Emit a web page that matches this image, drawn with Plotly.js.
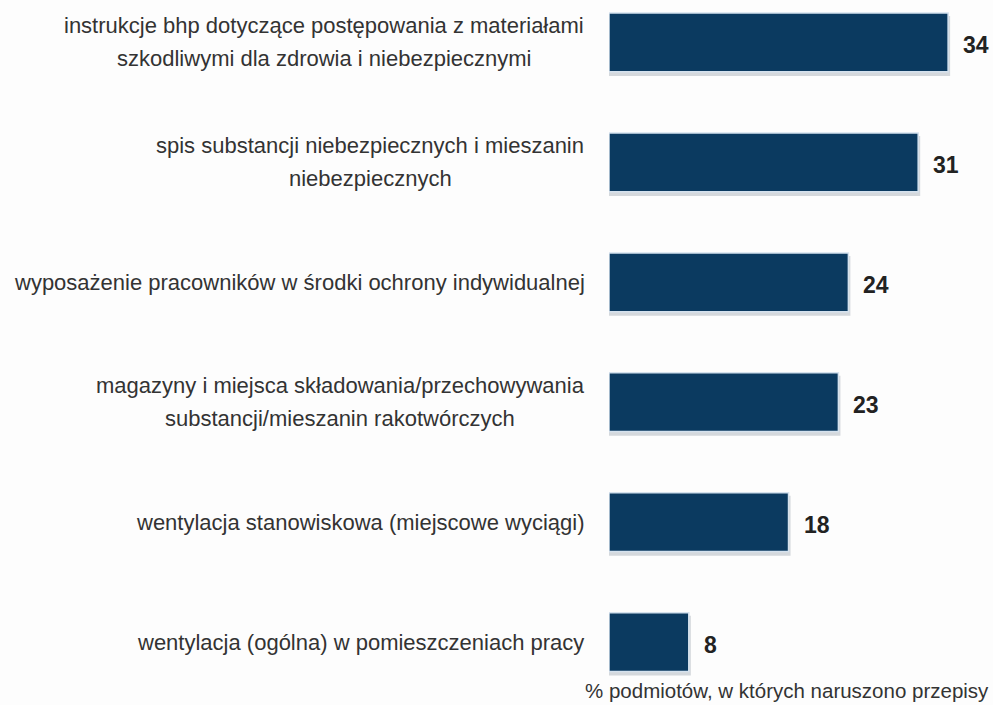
<!DOCTYPE html>
<html>
<head>
<meta charset="utf-8">
<script src="https://cdn.plot.ly/plotly-3.0.1.min.js"></script>
<style>html,body{margin:0;padding:0;background:#fdfdfd;}#chart{width:993px;height:705px;}</style>
</head>
<body>
<div id="chart"></div>
<script>
const categories = [
  "instrukcje bhp dotyczące postępowania z materiałami<br>szkodliwymi dla zdrowia i niebezpiecznymi",
  "spis substancji niebezpiecznych i mieszanin<br>niebezpiecznych",
  "wyposażenie pracowników w środki ochrony indywidualnej",
  "magazyny i miejsca składowania/przechowywania<br>substancji/mieszanin rakotwórczych",
  "wentylacja stanowiskowa (miejscowe wyciągi)",
  "wentylacja (ogólna) w pomieszczeniach pracy"
];
const values = [34, 31, 24, 23, 18, 8];
const footnote = "% podmiotów, w których naruszono przepisy";

const idx = categories.map((c, i) => i);
const FONT = "'Liberation Sans', Arial, sans-serif";
const LABEL_FONT = 22;
const ctx = document.createElement('canvas').getContext('2d');
ctx.font = LABEL_FONT + "px 'Liberation Sans', Arial, sans-serif";

const annotations = [];
categories.forEach((c, i) => {
  const lines = c.split('<br>');
  const w = Math.max(...lines.map(l => ctx.measureText(l).width));
  const n = lines.length;
  lines.forEach((l, k) => {
    annotations.push({
      xref: 'paper', yref: 'y', x: 0, y: i,
      xanchor: 'center', yanchor: 'middle',
      xshift: -25 - w / 2,
      yshift: -((k - (n - 1) / 2) * 33),
      text: l, showarrow: false,
      font: {family: FONT, size: LABEL_FONT, color: '#333333'}
    });
  });
  annotations.push({
    xref: 'x', yref: 'y', x: values[i], y: i,
    xanchor: 'left', yanchor: 'middle', xshift: 13, yshift: -3,
    text: '<b>' + values[i] + '</b>', showarrow: false,
    font: {family: FONT, size: 23, color: '#222222'}
  });
});
annotations.push({
  xref: 'paper', yref: 'paper', x: 1, y: 0, xanchor: 'right', yanchor: 'middle',
  xshift: -2, yshift: 12,
  text: footnote, showarrow: false,
  font: {family: FONT, size: 20.5, color: '#333333'}
});

const shadow = {
  type: 'bar', orientation: 'h', y: idx, x: values.map(v => v + 0.2),
  width: 0.5, offset: -0.22,
  marker: {color: 'rgba(150,160,170,0.4)', line: {width: 0}},
  hoverinfo: 'skip', showlegend: false
};
const bars = {
  type: 'bar', orientation: 'h', y: idx, x: values,
  width: 0.49, offset: -0.245,
  marker: {color: '#0b3a60', line: {color: '#d5e2ee', width: 1.5}},
  showlegend: false
};

const layout = {
  width: 993, height: 705,
  margin: {l: 609, r: 0, t: 0, b: 3},
  paper_bgcolor: '#fdfdfd', plot_bgcolor: '#fdfdfd',
  barmode: 'overlay',
  xaxis: {range: [0, 38.5], visible: false, fixedrange: true},
  yaxis: {range: [5.5, -0.354], visible: false, fixedrange: true},
  annotations: annotations
};
Plotly.newPlot('chart', [shadow, bars], layout, {displayModeBar: false, staticPlot: true});
</script>
</body>
</html>
